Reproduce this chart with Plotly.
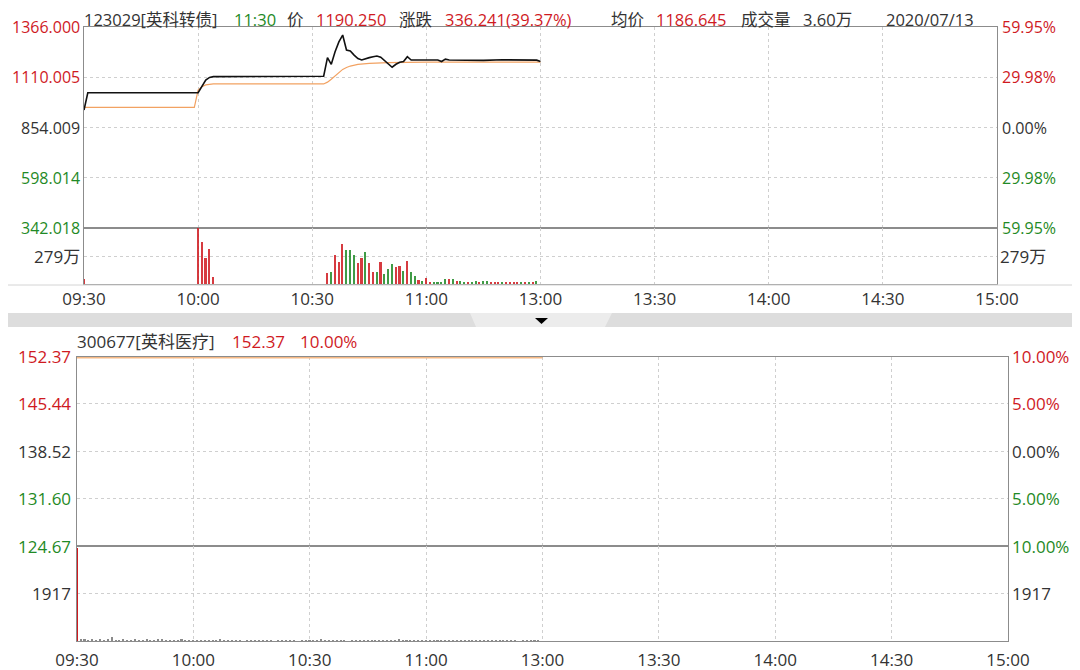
import plotly.graph_objects as go

# page is shown with the browser's 8px body margin, so the figure is a bit smaller
OFF = 8
W, H = 1080 - OFF, 670 - OFF

RED = "#cf1a1f"
GREEN = "#1f8a26"
DARK = "#333333"
FRAME = "#8c8c8c"
GRID = "#cfcfcf"
FONT = "Open Sans, Noto Sans CJK SC, sans-serif"

# ── 123029 英科转债 (minutes since 09:30) ─────────────────────────────────────
bond_min = [0, 1, 30, 31, 32, 33, 34, 63, 64, 65, 66, 67, 68, 69, 70, 71, 72,
            73, 74, 75, 76, 77, 78, 79, 80, 81, 82, 83, 84, 85, 86, 93, 94, 95,
            96, 100, 105, 110, 115, 119, 120]
bond_price = [943, 1031, 1031, 1062, 1096, 1109, 1113, 1115, 1210, 1176, 1240,
              1290, 1325, 1249, 1244, 1223, 1205, 1198, 1206, 1210, 1214, 1218,
              1212, 1195, 1178, 1161, 1176, 1186, 1190, 1215, 1198, 1198, 1190,
              1202, 1198, 1197, 1196, 1199, 1199, 1197, 1190.25]
bond_avg_min = [0, 29, 30, 31, 32, 34, 63, 64, 65, 66, 67, 68, 69, 70, 72, 75,
                80, 90, 120]
bond_avg = [957, 957, 1045, 1062, 1071, 1076, 1076, 1085, 1100, 1118, 1135,
            1150, 1160, 1167, 1176, 1181, 1185, 1187, 1186.645]

bond_vol_min = [0, 30, 31, 32, 33, 34] + list(range(64, 120))
bond_vol = [50, 558, 419, 261, 352, 74,
            106, 117, 285, 223, 396, 335, 335, 285, 206, 257,
            318, 206, 123, 117, 223, 100, 151, 201, 167, 184,
            134, 234, 123, 84, 39, 28, 56, 22, 11, 22,
            11, 50, 50, 50, 33, 33, 17, 17, 11, 28,
            17, 33, 33, 17, 17, 22, 17, 17, 22, 22,
            17, 17, 17, 22, 11, 28]
bond_vol_up = [1, 1, 1, 1, 1, 1,
               1, 0, 1, 1, 1, 0, 0, 0, 1, 1,
               0, 1, 1, 0, 1, 0, 0, 0, 1, 1,
               0, 1, 0, 0, 1, 0, 1, 1, 0, 0,
               0, 0, 1, 0, 1, 0, 0, 1, 0, 0,
               1, 0, 0, 1, 1, 1, 0, 1, 1, 1,
               1, 0, 1, 0, 1, 0]

bond_ticks = [1366.000, 1110.005, 854.009, 598.014, 342.018]
bond_tick_text = ["1366.000", "1110.005", "854.009", "598.014", "342.018"]
bond_pct_text = ["59.95%", "29.98%", "0.00%", "29.98%", "59.95%"]
bond_vol_tick = 279
bond_vol_max = 558

# ── 300677 英科医疗 ───────────────────────────────────────────────────────────
stock_min = [0, 120]
stock_price = [152.37, 152.37]
stock_avg = [152.37, 152.37]
stock_ticks = [152.37, 145.44, 138.52, 131.60, 124.67]
stock_tick_text = ["152.37", "145.44", "138.52", "131.60", "124.67"]
stock_pct_text = ["10.00%", "5.00%", "0.00%", "5.00%", "10.00%"]
stock_vol_min = list(range(0, 120))
stock_vol = [3760, 80, 60, 40, 60, 40, 60, 40, 80, 160, 40, 40, 60, 40, 40, 60,
             40, 40, 60, 40, 40, 100, 80, 40, 40, 40, 40, 60, 40, 40,
             40, 40, 40, 40, 40, 40, 40, 60, 40, 40, 40, 40, 40, 0, 40, 40,
             40, 40, 40, 40, 40, 0, 40, 40, 40, 40, 40, 0, 40, 40,
             40, 40, 40, 80, 40, 40, 40, 40, 40, 40, 0, 40, 40, 40, 40, 40,
             40, 40, 40, 40, 40, 40, 40, 80, 40, 40, 40, 40, 40, 40,
             40, 40, 40, 40, 40, 40, 40, 40, 40, 40, 40, 40, 40, 40, 40, 40,
             40, 40, 40, 40, 40, 40, 40, 40, 0, 40, 40, 40, 40, 40]
stock_vol_tick = 1917
stock_vol_max = 3834

tick_colors = [RED, RED, DARK, GREEN, GREEN]
time_vals = [0, 30, 60, 90, 120, 150, 180, 210, 240]
time_text = ["09:30", "10:00", "10:30", "11:00", "13:00", "13:30", "14:00", "14:30", "15:00"]


def px(x):
    # page pixel -> paper fraction
    return (x - OFF) / W


def py(y):
    return 1 - (y - OFF) / H


fig = go.Figure()

# ── Traces ────────────────────────────────────────────────────────────────────
fig.add_trace(go.Scatter(x=bond_avg_min, y=bond_avg, mode="lines",
    line=dict(color="#f2a262", width=1.2), xaxis="x", yaxis="y", showlegend=False))
fig.add_trace(go.Scatter(x=bond_min, y=bond_price, mode="lines",
    line=dict(color="#111111", width=1.6), xaxis="x", yaxis="y", showlegend=False))
fig.add_trace(go.Bar(x=bond_vol_min, y=bond_vol, width=0.42,
    marker=dict(color=[RED if u else GREEN for u in bond_vol_up], line_width=0),
    opacity=0.85, xaxis="x2", yaxis="y2", showlegend=False))

fig.add_trace(go.Scatter(x=stock_min, y=stock_price, mode="lines",
    line=dict(color="#111111", width=1.6), xaxis="x3", yaxis="y3", showlegend=False))
fig.add_trace(go.Scatter(x=stock_min, y=stock_avg, mode="lines",
    line=dict(color="#f6b985", width=4), xaxis="x3", yaxis="y3", showlegend=False))
fig.add_trace(go.Bar(x=stock_vol_min, y=stock_vol, width=0.4,
    marker=dict(color=[RED] + ["#8a8a8a"] * (len(stock_vol) - 1), line_width=0),
    xaxis="x4", yaxis="y4", showlegend=False))

# ── Axes ──────────────────────────────────────────────────────────────────────
top_dom = [px(84), px(997)]
bot_dom = [px(77), px(1008)]


def xax(dom, anchor, labels, standoff):
    return dict(domain=dom, anchor=anchor, range=[0, 240], tickvals=time_vals,
                ticktext=time_text, showticklabels=labels, ticks="",
                tickfont=dict(size=17, color=DARK, family=FONT),
                ticklabelstandoff=standoff,
                showgrid=True, gridcolor=GRID, griddash="dot", gridwidth=1,
                zeroline=False, showline=True, mirror=True, linecolor=FRAME,
                linewidth=1, fixedrange=True, automargin=False)


def yax(dom, anchor, rng, grid):
    return dict(domain=dom, anchor=anchor, range=rng, tickvals=grid,
                showticklabels=False, ticks="", showgrid=True, gridcolor=GRID,
                griddash="dot", gridwidth=1, zeroline=False, showline=True,
                mirror=True, linecolor=FRAME, linewidth=1, fixedrange=True,
                automargin=False)


fig.update_layout(
    xaxis=xax(top_dom, "y", False, 0),
    xaxis2=xax(top_dom, "y2", True, 0),
    xaxis3=xax(bot_dom, "y3", False, 0),
    xaxis4=xax(bot_dom, "y4", True, 4),
    yaxis=yax([py(228), py(27)], "x", [bond_ticks[-1], bond_ticks[0]], bond_ticks[1:4]),
    yaxis2=yax([py(284), py(228)], "x2", [0, bond_vol_max], [bond_vol_tick]),
    yaxis3=yax([py(546), py(356.5)], "x3", [stock_ticks[-1], stock_ticks[0]], stock_ticks[1:4]),
    yaxis4=yax([py(641), py(546)], "x4", [0, stock_vol_max], [stock_vol_tick]),
)

# ── Axis value labels ─────────────────────────────────────────────────────────
def side_labels(yref, vals, left_text, right_text, colors, xl, xr, size=17):
    for v, lt, rt, c in zip(vals, left_text, right_text, colors):
        fig.add_annotation(x=xl, y=v, xref="paper", yref=yref, text=lt,
            showarrow=False, xanchor="right", yanchor="middle",
            font=dict(size=size, color=c, family=FONT))
        fig.add_annotation(x=xr, y=v, xref="paper", yref=yref, text=rt,
            showarrow=False, xanchor="left", yanchor="middle",
            font=dict(size=size, color=c, family=FONT))


side_labels("y", bond_ticks, bond_tick_text, bond_pct_text, tick_colors, px(82), px(1000), 16)
side_labels("y2", [bond_vol_tick], [f"{bond_vol_tick}万"], [f"{bond_vol_tick}万"], [DARK], px(82), px(998))
side_labels("y3", stock_ticks, stock_tick_text, stock_pct_text, tick_colors, px(73), px(1010))
side_labels("y4", [stock_vol_tick], [str(stock_vol_tick)], [str(stock_vol_tick)], [DARK], px(73), px(1010))

# ── Headers ───────────────────────────────────────────────────────────────────
top_header = [
    ("123029[英科转债]", DARK, 83), ("11:30", GREEN, 233), ("价", DARK, 286),
    ("1190.250", RED, 315), ("涨跌", DARK, 398), ("336.241(39.37%)", RED, 444),
    ("均价", DARK, 610), ("1186.645", RED, 655), ("成交量", DARK, 740),
    ("3.60万", DARK, 802), ("2020/07/13", DARK, 885),
]
for txt, col, x in top_header:
    fig.add_annotation(x=px(x), y=py(19.5), xref="paper", yref="paper", text=txt,
        showarrow=False, xanchor="left", yanchor="middle", borderpad=0,
        font=dict(size=16.5, color=col, family=FONT))

bot_header = [("300677[英科医疗]", DARK, 75), ("152.37", RED, 230), ("10.00%", RED, 298)]
for txt, col, x in bot_header:
    fig.add_annotation(x=px(x), y=py(341), xref="paper", yref="paper", text=txt,
        showarrow=False, xanchor="left", yanchor="middle",
        font=dict(size=17, color=col, family=FONT))

# ── Frame / separator ─────────────────────────────────────────────────────────
fig.add_shape(type="line", xref="paper", yref="paper", x0=0, x1=1, y0=py(285), y1=py(285),
    line=dict(color="#d4d4d4", width=1))
fig.add_shape(type="rect", xref="paper", yref="paper", x0=0, x1=1, y0=py(327), y1=py(313),
    fillcolor="#dddddd", line=dict(width=0), layer="below")
fig.add_shape(type="path", xref="paper", yref="paper",
    path=f"M {px(470)},{py(313)} L {px(612)},{py(313)} L {px(605)},{py(327)} L {px(476)},{py(327)} Z",
    fillcolor="#ececec", line=dict(width=0), layer="below")
fig.add_shape(type="path", xref="paper", yref="paper",
    path=f"M {px(535)},{py(318)} L {px(548)},{py(318)} L {px(541.5)},{py(324)} Z",
    fillcolor="#000000", line=dict(width=0))

fig.update_layout(
    width=W, height=H,
    margin=dict(l=0, r=0, t=0, b=0, pad=0),
    paper_bgcolor="white", plot_bgcolor="white",
    bargap=0, showlegend=False,
)

fig.write_html("out.html")
